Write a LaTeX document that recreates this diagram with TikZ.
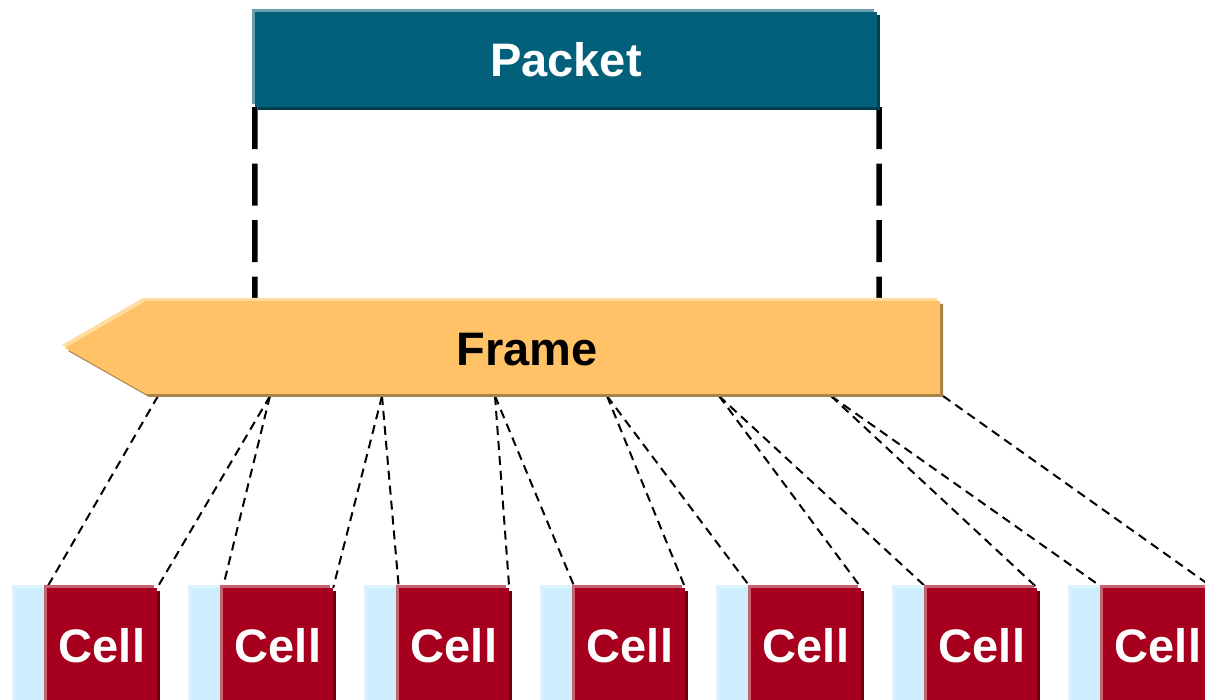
\documentclass[tikz,border=0pt]{standalone}
\usepackage{fontspec}
\setmainfont{Liberation Sans}
\usetikzlibrary{positioning,shadows,backgrounds}

\definecolor{pktFill}{HTML}{03607A}
\definecolor{pktLight}{HTML}{6A9FB0}
\definecolor{pktDark}{HTML}{013E4E}
\definecolor{frmFill}{HTML}{FFC266}
\definecolor{frmLight}{HTML}{FFDCA0}
\definecolor{frmDark}{HTML}{A8834A}
\definecolor{cellFill}{HTML}{A6001E}
\definecolor{cellLight}{HTML}{C86272}
\definecolor{cellDark}{HTML}{6A0012}
\definecolor{bgFill}{HTML}{CCEEFF}
\definecolor{bgLight}{HTML}{DDF4FF}

\begin{document}
\begin{tikzpicture}[
    x=1pt, y=-1pt,
    hiLite/.style={general shadow={shadow xshift=-3pt,shadow yshift=3pt,fill=#1}},
    loLite/.style={general shadow={shadow xshift=3pt,shadow yshift=-3pt,fill=#1}},
    boxText/.style={font=\fontsize{47}{56}\selectfont\bfseries},
    packetBox/.style={boxText,fill=pktFill,text=white,hiLite=pktLight,loLite=pktDark,
        inner sep=0pt,minimum width=622pt,minimum height=95pt},
    cellBox/.style={boxText,fill=cellFill,text=white,hiLite=cellLight,loLite=cellDark,
        inner sep=0pt,minimum width=110pt,minimum height=116pt},
    bgBox/.style={fill=bgFill,hiLite=bgLight,inner sep=0pt,minimum width=45pt,minimum height=116pt},
    guide/.style={line width=5.5pt,dash pattern=on 42pt off 14.5pt},
    link/.style={line width=2pt,dash pattern=on 9pt off 6pt}
]
\useasboundingbox (0,0) rectangle (1205,700);
\clip (0,0) rectangle (1205,700);

\node[packetBox] (packet) at (566,59.5) {Packet};

% -- frame arrow --
\path[fill=frmFill,hiLite=frmLight,loLite=frmDark]
    (65,348) -- (146,301) -- (940,301) -- (940,394) -- (146,394) -- cycle;
\node[boxText] (frame) at (527,350) {Frame};

\coordinate (frmTopL) at (255,301);
\coordinate (frmTopR) at (879,301);
\coordinate (frmBot0) at (158,396);
\coordinate (frmBot1) at (270,396);
\coordinate (frmBot2) at (382,396);
\coordinate (frmBot3) at (495,396);
\coordinate (frmBot4) at (607,396);
\coordinate (frmBot5) at (719,396);
\coordinate (frmBot6) at (831,396);
\coordinate (frmBot7) at (943,396);

% -- cells --
\node[bgBox] (bgCell1) at (37.5,646) {};
\node[cellBox] (cell1) at (102,646) {Cell};
\node[bgBox] (bgCell2) at (213.5,646) {};
\node[cellBox] (cell2) at (278,646) {Cell};
\node[bgBox] (bgCell3) at (389.5,646) {};
\node[cellBox] (cell3) at (454,646) {Cell};
\node[bgBox] (bgCell4) at (565.5,646) {};
\node[cellBox] (cell4) at (630,646) {Cell};
\node[bgBox] (bgCell5) at (741.5,646) {};
\node[cellBox] (cell5) at (806,646) {Cell};
\node[bgBox] (bgCell6) at (917.5,646) {};
\node[cellBox] (cell6) at (982,646) {Cell};
\node[bgBox] (bgCell7) at (1093.5,646) {};
\node[cellBox] (cell7) at (1158,646) {Cell};

% -- packet->frame guides, frame->cell links --
\begin{scope}[on background layer]
  \draw[guide] (packet.south west) -- (frmTopL);
  \draw[guide] ([xshift=2pt]packet.south east) -- (frmTopR);

  \draw[link] (frmBot0) -- (cell1.north west);
  \draw[link] (frmBot1) -- (cell1.north east);
  \draw[link] (frmBot1) -- (cell2.north west);
  \draw[link] (frmBot2) -- (cell2.north east);
  \draw[link] (frmBot2) -- (cell3.north west);
  \draw[link] (frmBot3) -- (cell3.north east);
  \draw[link] (frmBot3) -- (cell4.north west);
  \draw[link] (frmBot4) -- (cell4.north east);
  \draw[link] (frmBot4) -- (cell5.north west);
  \draw[link] (frmBot5) -- (cell5.north east);
  \draw[link] (frmBot5) -- (cell6.north west);
  \draw[link] (frmBot6) -- (cell6.north east);
  \draw[link] (frmBot6) -- (cell7.north west);
  \draw[link] (frmBot7) -- (cell7.north east);
\end{scope}

\end{tikzpicture}
\end{document}
